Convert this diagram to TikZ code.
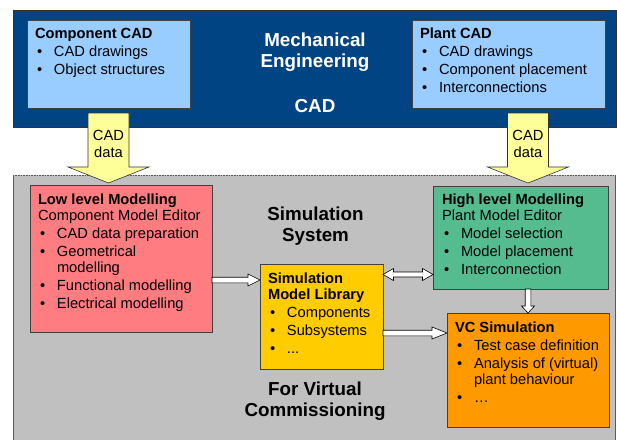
\documentclass[tikz,border=0pt]{standalone}
\usepackage{fontspec}
\setmainfont{Liberation Sans}
\usetikzlibrary{calc}
\definecolor{cadblue}{RGB}{0,68,132}
\definecolor{lightblue}{RGB}{153,204,255}
\definecolor{simgray}{RGB}{192,192,192}
\definecolor{lowred}{RGB}{255,124,128}
\definecolor{highgreen}{RGB}{84,188,142}
\definecolor{libyellow}{RGB}{255,204,0}
\definecolor{vcorange}{RGB}{255,153,0}
\definecolor{cadyellow}{RGB}{255,255,153}
\definecolor{edgegray}{RGB}{90,90,90}

\newcommand\bitem[1]{\par\hangindent=19pt\hangafter=1\noindent\makebox[19pt][l]{\hspace{2pt}\textbullet}#1}
\newcommand\boxtext[2]{\parbox[t]{#1}{\fontsize{14.7}{16.3}\selectfont\parskip=1.7pt\relax #2}}
\newcommand\bigtext[1]{\parbox[t]{200pt}{\centering\fontsize{18.8}{21.5}\selectfont\bfseries #1}}

\newcommand\rarrow[3]{%
\path[blockarrow] let \p1=#1, \p2=#2 in
 (\x1,\y1+2.8pt) -- (\x2-#3pt,\y1+2.8pt) -- (\x2-#3pt,\y1+6pt) -- (\x2,\y1)
 -- (\x2-#3pt,\y1-6pt) -- (\x2-#3pt,\y1-2.8pt) -- (\x1,\y1-2.8pt) -- cycle;}
\newcommand\lrarrow[3]{%
\path[blockarrow] let \p1=#1, \p2=#2 in
 (\x1,\y1) -- (\x1+#3pt,\y1+6pt) -- (\x1+#3pt,\y1+2.5pt) -- (\x2-#3pt,\y1+2.5pt)
 -- (\x2-#3pt,\y1+6pt) -- (\x2,\y1) -- (\x2-#3pt,\y1-6pt) -- (\x2-#3pt,\y1-2.5pt)
 -- (\x1+#3pt,\y1-2.5pt) -- (\x1+#3pt,\y1-6pt) -- cycle;}
\newcommand\darrow[3]{%
\path[blockarrow] let \p1=#1, \p2=#2 in
 (\x1-2.8pt,\y1) -- (\x1-2.8pt,\y2+#3pt) -- (\x1-6.5pt,\y2+#3pt) -- (\x1,\y2)
 -- (\x1+6.5pt,\y2+#3pt) -- (\x1+2.8pt,\y2+#3pt) -- (\x1+2.8pt,\y1) -- cycle;}

\begin{document}
\begin{tikzpicture}[x=1pt,y=-1pt,
  panel/.style={anchor=north west, inner sep=0pt, outer sep=0pt, draw=black!75, line width=0.6pt},
  txt/.style={anchor=base west, inner sep=0pt, outer sep=0pt},
  bigt/.style={anchor=base, inner sep=0pt, outer sep=0pt},
  blockarrow/.style={draw=black, fill=white, line width=0.6pt, line join=miter},
  cadarrow/.style={draw=black!80, fill=cadyellow, line width=0.6pt}]
\useasboundingbox (0,0) rectangle (617,439);
\fill[white] (0,0) rectangle (617,439);

% top CAD area
\node[panel, draw=black!80, fill=cadblue, minimum width=603pt, minimum height=117pt] (cad) at (13,10) {};
\node[panel, fill=lightblue, minimum width=163pt, minimum height=88pt] (comp) at (27,20) {};
\node[panel, fill=lightblue, minimum width=193pt, minimum height=88pt] (plant) at (412,20) {};
\node[bigt, text=white] (mech) at (315,46) {\bigtext{Mechanical\\Engineering}};
\node[bigt, text=white] (cadt) at (315,112) {\bigtext{CAD}};
\node[txt] (compt) at (35,38) {\boxtext{150pt}{\textbf{Component CAD}\bitem{CAD drawings}\bitem{Object structures}}};
\node[txt] (plantt) at (420,38) {\boxtext{180pt}{\textbf{Plant CAD}\bitem{CAD drawings}\bitem{Component placement}\bitem{Interconnections}}};

% simulation area
\node[anchor=north west, inner sep=0pt, outer sep=0pt, fill=simgray, minimum width=602pt, minimum height=268pt] (sim) at (13,175) {};
\draw[edgegray, line width=0.6pt] (sim.north west) -- (sim.south west);
\draw[edgegray, line width=0.6pt] (sim.north east) -- (sim.south east);
\draw[edgegray, line width=0.6pt, dash pattern=on 0.8pt off 0.8pt] (sim.north west) -- (sim.north east);

\node[panel, fill=lowred, minimum width=182pt, minimum height=147pt] (low) at (30,185) {};
\node[panel, fill=highgreen, minimum width=175pt, minimum height=103pt] (high) at (433,186) {};
\node[panel, fill=libyellow, minimum width=123pt, minimum height=105pt] (lib) at (260,264) {};
\node[panel, fill=vcorange, minimum width=162pt, minimum height=114pt] (vc) at (447,313) {};

\node[bigt] (simt) at (315.5,220) {\bigtext{Simulation\\System}};
\node[bigt] (vct) at (315,395) {\bigtext{For Virtual\\Commissioning}};

\node[txt] (lowt) at (38,204) {\boxtext{175pt}{\textbf{Low level Modelling}\\Component Model Editor\bitem{CAD data preparation}\bitem{Geometrical\newline modelling}\bitem{Functional modelling}\bitem{Electrical modelling}}};
\node[txt] (hight) at (442,204) {\boxtext{165pt}{\textbf{High level Modelling}\\Plant Model Editor\bitem{Model selection}\bitem{Model placement}\bitem{Interconnection}}};
\node[txt] (libt) at (268,283) {\boxtext{115pt}{\textbf{Simulation}\\\textbf{Model Library}\bitem{Components}\bitem{Subsystems}\bitem{...}}};
\node[txt] (vctt) at (455,332) {\boxtext{150pt}{\textbf{VC Simulation}\bitem{Test case definition}\bitem{Analysis of (virtual)\newline plant behaviour}\bitem{…}}};

% connectors
\rarrow{(low.east |- 0,280)}{(lib.west |- 0,280)}{12}
\lrarrow{(lib.east |- 0,274.5)}{(high.west |- 0,274.5)}{10.5}
\rarrow{(lib.east |- 0,333)}{(vc.west |- 0,333)}{15}
\darrow{(vc.north |- high.south)}{(vc.north)}{7}

% CAD data arrows
\coordinate (cadL) at (comp.south |- 0,113);
\coordinate (cadR) at (528,113);
\foreach \c in {cadL,cadR}{
  \path[cadarrow, shift={(\c)}] (-20.5,0) -- (20.5,0) -- (20.5,54) -- (40.5,54) -- (0,70) -- (-40.5,54) -- (-20.5,54) -- cycle;
}
\node[bigt] (cadLt) at ($(cadL)+(0,27)$) {\parbox[t]{40pt}{\centering\fontsize{14.7}{17}\selectfont CAD\\data}};
\node[bigt] (cadRt) at ($(cadR)+(0,27)$) {\parbox[t]{40pt}{\centering\fontsize{14.7}{17}\selectfont CAD\\data}};
\end{tikzpicture}
\end{document}
